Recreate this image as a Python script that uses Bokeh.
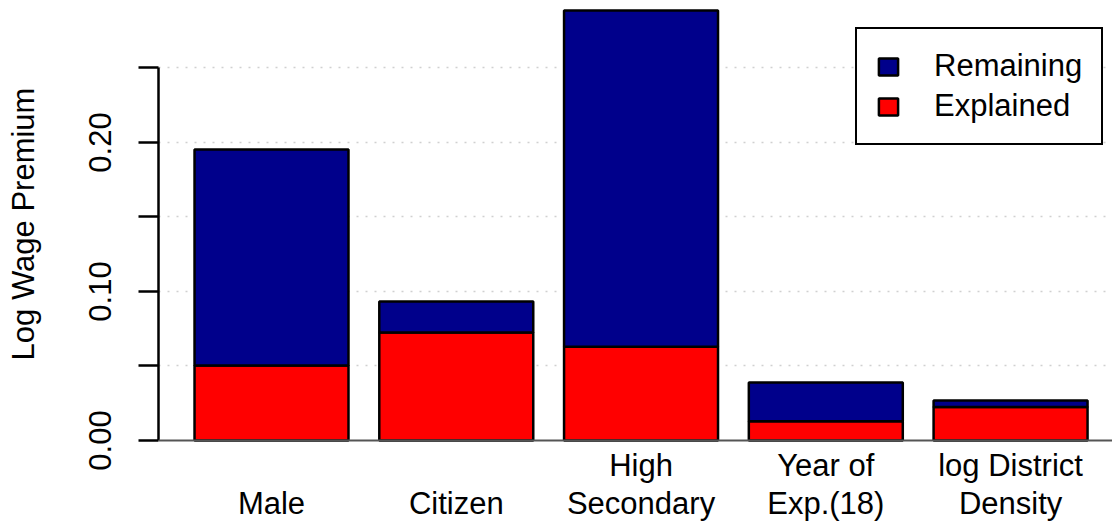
from bokeh.plotting import figure
from bokeh.models import (
    ColumnDataSource,
    FixedTicker,
    LinearAxis,
    Legend,
    LegendItem,
    Range1d,
    Span,
)
from bokeh.embed import file_html
from bokeh.resources import INLINE

# values
categories = ["Male", "Citizen", "High\nSecondary", "Year of\nExp.(18)", "log District\nDensity"]
explained = [0.0503, 0.0725, 0.0630, 0.0130, 0.0224]
remaining = [0.1450, 0.0208, 0.2256, 0.0259, 0.0044]
y_ticks = [0.0, 0.05, 0.10, 0.15, 0.20, 0.25]
y_labels = {0.0: "0.00", 0.05: "", 0.10: "0.10", 0.15: "", 0.20: "0.20", 0.25: ""}

FONT = "Liberation Sans"
BLUE = "#00008b"
RED = "#ff0000"

# R barplot layout: bar width 1, space 0.2
x = [0.2 + 1.2 * i + 0.5 for i in range(len(categories))]
upper = [c.split("\n")[0] if "\n" in c else "" for c in categories]
lower = [c.split("\n")[-1] for c in categories]

source = ColumnDataSource(dict(x=x, explained=explained, remaining=remaining))

p = figure(width=1112, height=523, output_backend="svg", toolbar_location=None,
           x_range=Range1d(-0.034, 6.162), y_range=Range1d(-0.0047, 0.2953),
           x_axis_location=None,
           min_border_left=158, min_border_right=0, min_border_top=0, min_border_bottom=71)
p.outline_line_color = None
p.xgrid.visible = False

p.ygrid.ticker = FixedTicker(ticks=y_ticks[1:])
p.ygrid.grid_line_color = "#d0d0d0"
p.ygrid.grid_line_dash = "2 7"
p.ygrid.grid_line_width = 1.5

yax = p.yaxis[0]
yax.ticker = FixedTicker(ticks=y_ticks)
yax.major_label_overrides = y_labels
yax.bounds = (0, 0.25)
yax.major_label_orientation = "vertical"
yax.major_label_text_font = FONT
yax.major_label_text_font_size = "31px"
yax.major_label_text_color = "black"
yax.major_label_standoff = 27
yax.major_tick_out = 20
yax.major_tick_in = 0
yax.minor_tick_out = 0
yax.minor_tick_in = 0
yax.major_tick_line_width = 2.5
yax.axis_line_width = 2.5
yax.axis_line_color = "black"
yax.major_tick_line_color = "black"
yax.axis_label = "Log Wage Premium"
yax.axis_label_text_font = FONT
yax.axis_label_text_font_size = "31px"
yax.axis_label_text_font_style = "normal"
yax.axis_label_text_color = "black"
yax.axis_label_standoff = 46

# category names in two rows of x-axis labels
for rows in (upper, lower):
    ax = LinearAxis(ticker=FixedTicker(ticks=x),
                    major_label_overrides=dict(zip(x, rows)))
    ax.axis_line_color = None
    ax.major_tick_line_color = None
    ax.minor_tick_line_color = None
    ax.major_tick_out = 0
    ax.major_tick_in = 0
    ax.major_label_standoff = 0
    ax.major_label_text_font = FONT
    ax.major_label_text_font_size = "31px"
    ax.major_label_text_color = "black"
    p.add_layout(ax, "below")

p.add_layout(Span(location=0, dimension="width", line_color="#555555", line_width=2))

r = p.vbar_stack(["explained", "remaining"], x="x", width=1.0, source=source,
                 fill_color=[RED, BLUE], line_color="black", line_width=2.5)

legend = Legend(items=[LegendItem(label="Remaining", renderers=[r[1]]),
                       LegendItem(label="Explained", renderers=[r[0]])],
                location=(697, 302))
legend.label_text_font = FONT
legend.label_text_font_size = "31px"
legend.label_text_color = "black"
legend.label_height = 32
legend.glyph_width = 24
legend.glyph_height = 21
legend.label_standoff = 34
legend.spacing = 4
legend.padding = 19
legend.margin = 0
legend.border_line_color = "black"
legend.border_line_alpha = 1.0
legend.border_line_width = 2.5
legend.background_fill_alpha = 1.0
p.add_layout(legend)

open("out.html", "w").write(file_html(p, INLINE))
